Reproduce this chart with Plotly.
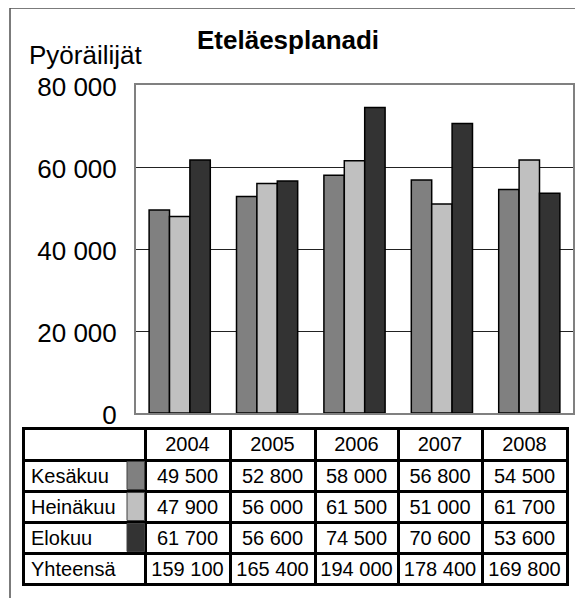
import plotly.graph_objects as go

# ---- data ----
years = ["2004", "2005", "2006", "2007", "2008"]
kesakuu = [49500, 52800, 58000, 56800, 54500]
heinakuu = [47900, 56000, 61500, 51000, 61700]
elokuu = [61700, 56600, 74500, 70600, 53600]
yhteensa = [159100, 165400, 194000, 178400, 169800]
series_names = ["Kesäkuu", "Heinäkuu", "Elokuu"]
total_label = "Yhteensä"
y_tickvals = [0, 20000, 40000, 60000, 80000]
y_ticktext = ["0", "20 000", "40 000", "60 000", "80 000"]
title_text = "Eteläesplanadi"
ylabel_text = "Pyöräilijät"

colors = ["#808080", "#c0c0c0", "#333333"]

W, H = 583, 598
OFF = 8  # page body margin offset
def px(x):
    return (x - OFF) / W
def py(y):
    return 1 - (y - OFF) / H

def fmt(v):
    return f"{v:,}".replace(",", "\u00a0")

FONT = "Liberation Sans, Arial, sans-serif"

fig = go.Figure()
for name, vals, c in zip(series_names, [kesakuu, heinakuu, elokuu], colors):
    fig.add_trace(go.Bar(
        x=years, y=vals, name=name,
        marker=dict(color=c, line=dict(color="black", width=1.5)),
        showlegend=False, hoverinfo="x+y+name",
    ))

# table
header_vals = [""] + years
cell_vals = [series_names + [total_label]]
for i in range(len(years)):
    col = [kesakuu[i], heinakuu[i], elokuu[i], yhteensa[i]]
    cell_vals.append([fmt(v) for v in col])

tab_left, tab_right, tab_top = 23, 567, 428
HDR_H, ROW_H = 32, 31
col_px = [122, 85, 85, 83, 84, 85]
fig.add_trace(go.Table(
    domain=dict(x=[px(tab_left), px(tab_right)], y=[0, py(tab_top)]),
    columnwidth=col_px,
    header=dict(values=header_vals, height=HDR_H,
                fill=dict(color="white"),
                line=dict(color="black", width=3),
                align="center",
                font=dict(family=FONT, size=20, color="black")),
    cells=dict(values=cell_vals, height=ROW_H,
               fill=dict(color="white"),
               line=dict(color="black", width=3),
               align=["left"] + ["center"] * len(years),
               font=dict(family=FONT, size=20, color="black")),
))

# swatches (legend keys inside the table's first column)
shapes = []
row_top = tab_top + HDR_H
for i, c in enumerate(colors):
    shapes.append(dict(type="rect", xref="paper", yref="paper",
                       x0=px(127), x1=px(144.5),
                       y0=py(row_top + i * ROW_H + 1.5), y1=py(row_top + (i + 1) * ROW_H - 1.5),
                       fillcolor=c, line=dict(color="#404040", width=1)))

# outer frame
shapes.append(dict(type="rect", xref="paper", yref="paper",
                   x0=px(10), x1=px(W + 30), y0=py(8), y1=py(H + 30),
                   line=dict(color="#505050", width=1.5)))

fig.update_layout(
    width=W, height=H,
    margin=dict(l=0, r=0, t=0, b=0, autoexpand=False),
    showlegend=False,
    paper_bgcolor="white", plot_bgcolor="white",
    font=dict(family=FONT, color="black"),
    barmode="group", bargap=0.30, bargroupgap=0,
    xaxis=dict(domain=[px(136), px(573)], showticklabels=False, ticks="",
               showline=True, linecolor="#808080", linewidth=2, mirror=True,
               showgrid=False, zeroline=False, fixedrange=True),
    yaxis=dict(domain=[py(413), py(85)], range=[0, 80000],
               tickvals=y_tickvals, ticktext=y_ticktext,
               tickfont=dict(family=FONT, size=26, color="black"),
               ticks="", ticklabelstandoff=12, ticklabelshift=2,
               showline=True, linecolor="#808080", linewidth=2, mirror=True,
               showgrid=True, gridcolor="#222222", gridwidth=1,
               zeroline=False, fixedrange=True),
    shapes=shapes,
    annotations=[
        dict(text=f"<b>{title_text}</b>", xref="paper", yref="paper",
             x=px(288), y=py(40), xanchor="center", yanchor="middle",
             showarrow=False, font=dict(family=FONT, size=26, color="black")),
        dict(text=ylabel_text, xref="paper", yref="paper",
             x=px(27), y=py(55), xanchor="left", yanchor="middle",
             showarrow=False, font=dict(family=FONT, size=26, color="black")),
    ],
)

fig.write_html("out.html")
